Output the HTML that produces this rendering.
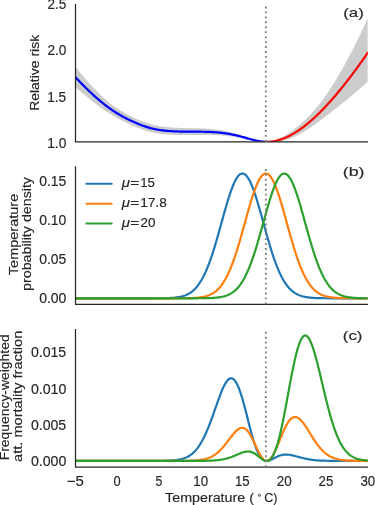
<!DOCTYPE html>
<html><head><meta charset="utf-8"><style>
html,body{margin:0;padding:0;background:#fff;width:375px;height:505px;overflow:hidden}
svg{display:block;will-change:transform}
text{font-family:"Liberation Sans",sans-serif;fill:#262626;stroke:#262626;stroke-width:0.16px}
</style></head><body>
<svg width="375" height="505" viewBox="0 0 375 505">
<defs><clipPath id="ca"><rect x="75.3" y="3.9" width="292.50" height="137.9"/></clipPath><clipPath id="cb"><rect x="75.3" y="166.2" width="292.50" height="138.2"/></clipPath><clipPath id="cc"><rect x="75.3" y="328.9" width="292.50" height="138.2"/></clipPath></defs>
<g clip-path="url(#ca)">
<path d="M75.30,66.32 L76.14,67.40 L76.97,68.48 L77.81,69.54 L78.64,70.60 L79.48,71.64 L80.31,72.68 L81.15,73.71 L81.99,74.73 L82.82,75.74 L83.66,76.75 L84.49,77.74 L85.33,78.72 L86.16,79.70 L87.00,80.66 L87.84,81.61 L88.67,82.56 L89.51,83.49 L90.34,84.41 L91.18,85.32 L92.01,86.23 L92.85,87.12 L93.69,88.00 L94.52,88.86 L95.36,89.72 L96.19,90.57 L97.03,91.41 L97.86,92.23 L98.70,93.05 L99.54,93.87 L100.37,94.67 L101.21,95.46 L102.04,96.24 L102.88,97.01 L103.71,97.78 L104.55,98.53 L105.39,99.27 L106.22,100.00 L107.06,100.72 L107.89,101.43 L108.73,102.12 L109.56,102.81 L110.40,103.48 L111.24,104.14 L112.07,104.79 L112.91,105.43 L113.74,106.05 L114.58,106.66 L115.41,107.26 L116.25,107.84 L117.08,108.42 L117.92,108.97 L118.76,109.52 L119.59,110.05 L120.43,110.56 L121.26,111.07 L122.10,111.56 L122.93,112.05 L123.77,112.53 L124.61,113.00 L125.44,113.46 L126.28,113.91 L127.11,114.35 L127.95,114.79 L128.78,115.22 L129.62,115.64 L130.46,116.06 L131.29,116.48 L132.13,116.88 L132.96,117.29 L133.80,117.68 L134.63,118.07 L135.47,118.46 L136.31,118.84 L137.14,119.21 L137.98,119.58 L138.81,119.94 L139.65,120.29 L140.48,120.63 L141.32,120.97 L142.16,121.30 L142.99,121.62 L143.83,121.94 L144.66,122.24 L145.50,122.54 L146.33,122.83 L147.17,123.10 L148.01,123.37 L148.84,123.63 L149.68,123.88 L150.51,124.12 L151.35,124.35 L152.18,124.57 L153.02,124.78 L153.86,124.99 L154.69,125.18 L155.53,125.36 L156.36,125.54 L157.20,125.70 L158.03,125.86 L158.87,126.01 L159.71,126.16 L160.54,126.29 L161.38,126.42 L162.21,126.54 L163.05,126.66 L163.88,126.76 L164.72,126.87 L165.56,126.96 L166.39,127.05 L167.23,127.14 L168.06,127.21 L168.90,127.29 L169.73,127.36 L170.57,127.42 L171.41,127.48 L172.24,127.54 L173.08,127.59 L173.91,127.64 L174.75,127.69 L175.58,127.73 L176.42,127.77 L177.26,127.80 L178.09,127.84 L178.93,127.87 L179.76,127.90 L180.60,127.92 L181.43,127.95 L182.27,127.97 L183.11,127.99 L183.94,128.02 L184.78,128.03 L185.61,128.05 L186.45,128.07 L187.28,128.08 L188.12,128.10 L188.96,128.11 L189.79,128.13 L190.63,128.14 L191.46,128.15 L192.30,128.17 L193.13,128.18 L193.97,128.20 L194.81,128.22 L195.64,128.24 L196.48,128.26 L197.31,128.28 L198.15,128.30 L198.98,128.33 L199.82,128.36 L200.65,128.39 L201.49,128.42 L202.33,128.45 L203.16,128.49 L204.00,128.53 L204.83,128.57 L205.67,128.62 L206.50,128.67 L207.34,128.72 L208.18,128.78 L209.01,128.84 L209.85,128.91 L210.68,128.97 L211.52,129.05 L212.35,129.12 L213.19,129.20 L214.03,129.28 L214.86,129.37 L215.70,129.46 L216.53,129.55 L217.37,129.65 L218.20,129.75 L219.04,129.86 L219.88,129.98 L220.71,130.10 L221.55,130.23 L222.38,130.36 L223.22,130.50 L224.05,130.65 L224.89,130.80 L225.73,130.96 L226.56,131.13 L227.40,131.30 L228.23,131.48 L229.07,131.67 L229.90,131.86 L230.74,132.06 L231.58,132.27 L232.41,132.48 L233.25,132.70 L234.08,132.92 L234.92,133.15 L235.75,133.39 L236.59,133.63 L237.43,133.87 L238.26,134.13 L239.10,134.39 L239.93,134.65 L240.77,134.92 L241.60,135.19 L242.44,135.46 L243.28,135.74 L244.11,136.03 L244.95,136.31 L245.78,136.60 L246.62,136.88 L247.45,137.17 L248.29,137.46 L249.13,137.74 L249.96,138.03 L250.80,138.31 L251.63,138.58 L252.47,138.86 L253.30,139.14 L254.14,139.41 L254.98,139.68 L255.81,139.94 L256.65,140.19 L257.48,140.42 L258.32,140.65 L259.15,140.86 L259.99,141.05 L260.83,141.23 L261.66,141.38 L262.50,141.51 L263.33,141.62 L264.17,141.71 L265.00,141.77 L265.84,141.80 L266.68,141.80 L267.51,141.76 L268.35,141.68 L269.18,141.57 L270.02,141.43 L270.85,141.26 L271.69,141.06 L272.53,140.83 L273.36,140.58 L274.20,140.31 L275.03,140.02 L275.87,139.71 L276.70,139.39 L277.54,139.05 L278.38,138.70 L279.21,138.34 L280.05,137.97 L280.88,137.59 L281.72,137.19 L282.55,136.77 L283.39,136.34 L284.22,135.89 L285.06,135.42 L285.90,134.93 L286.73,134.43 L287.57,133.91 L288.40,133.38 L289.24,132.83 L290.07,132.27 L290.91,131.69 L291.75,131.10 L292.58,130.50 L293.42,129.88 L294.25,129.25 L295.09,128.61 L295.92,127.96 L296.76,127.29 L297.60,126.62 L298.43,125.93 L299.27,125.23 L300.10,124.52 L300.94,123.79 L301.77,123.06 L302.61,122.30 L303.45,121.54 L304.28,120.76 L305.12,119.97 L305.95,119.16 L306.79,118.34 L307.62,117.50 L308.46,116.65 L309.30,115.78 L310.13,114.89 L310.97,113.99 L311.80,113.07 L312.64,112.14 L313.47,111.19 L314.31,110.23 L315.15,109.26 L315.98,108.27 L316.82,107.26 L317.65,106.24 L318.49,105.21 L319.32,104.16 L320.16,103.09 L321.00,102.01 L321.83,100.91 L322.67,99.80 L323.50,98.67 L324.34,97.53 L325.17,96.37 L326.01,95.19 L326.85,93.99 L327.68,92.77 L328.52,91.54 L329.35,90.28 L330.19,89.01 L331.02,87.72 L331.86,86.42 L332.70,85.10 L333.53,83.76 L334.37,82.41 L335.20,81.04 L336.04,79.66 L336.87,78.26 L337.71,76.86 L338.55,75.44 L339.38,74.01 L340.22,72.57 L341.05,71.11 L341.89,69.64 L342.72,68.15 L343.56,66.65 L344.40,65.14 L345.23,63.61 L346.07,62.07 L346.90,60.51 L347.74,58.95 L348.57,57.38 L349.41,55.80 L350.25,54.21 L351.08,52.61 L351.92,51.01 L352.75,49.39 L353.59,47.77 L354.42,46.13 L355.26,44.48 L356.10,42.82 L356.93,41.14 L357.77,39.45 L358.60,37.75 L359.44,36.02 L360.27,34.28 L361.11,32.52 L361.95,30.75 L362.78,28.96 L363.62,27.15 L364.45,25.32 L365.29,23.48 L366.12,21.62 L366.96,19.74 L367.80,17.84 L367.80,81.89 L366.96,82.62 L366.12,83.34 L365.29,84.06 L364.45,84.78 L363.62,85.50 L362.78,86.21 L361.95,86.93 L361.11,87.64 L360.27,88.36 L359.44,89.07 L358.60,89.79 L357.77,90.50 L356.93,91.22 L356.10,91.93 L355.26,92.65 L354.42,93.36 L353.59,94.07 L352.75,94.78 L351.92,95.49 L351.08,96.19 L350.25,96.89 L349.41,97.58 L348.57,98.27 L347.74,98.96 L346.90,99.64 L346.07,100.32 L345.23,101.00 L344.40,101.68 L343.56,102.35 L342.72,103.02 L341.89,103.70 L341.05,104.37 L340.22,105.05 L339.38,105.72 L338.55,106.39 L337.71,107.06 L336.87,107.72 L336.04,108.38 L335.20,109.04 L334.37,109.69 L333.53,110.34 L332.70,110.99 L331.86,111.64 L331.02,112.28 L330.19,112.93 L329.35,113.57 L328.52,114.21 L327.68,114.85 L326.85,115.49 L326.01,116.14 L325.17,116.78 L324.34,117.42 L323.50,118.06 L322.67,118.70 L321.83,119.33 L321.00,119.97 L320.16,120.59 L319.32,121.22 L318.49,121.84 L317.65,122.45 L316.82,123.06 L315.98,123.67 L315.15,124.27 L314.31,124.86 L313.47,125.45 L312.64,126.03 L311.80,126.61 L310.97,127.18 L310.13,127.74 L309.30,128.29 L308.46,128.84 L307.62,129.39 L306.79,129.93 L305.95,130.46 L305.12,130.98 L304.28,131.50 L303.45,132.01 L302.61,132.51 L301.77,133.00 L300.94,133.48 L300.10,133.95 L299.27,134.41 L298.43,134.86 L297.60,135.29 L296.76,135.71 L295.92,136.12 L295.09,136.52 L294.25,136.90 L293.42,137.27 L292.58,137.62 L291.75,137.96 L290.91,138.29 L290.07,138.60 L289.24,138.90 L288.40,139.19 L287.57,139.47 L286.73,139.73 L285.90,139.98 L285.06,140.21 L284.22,140.43 L283.39,140.64 L282.55,140.84 L281.72,141.02 L280.88,141.20 L280.05,141.35 L279.21,141.49 L278.38,141.61 L277.54,141.71 L276.70,141.79 L275.87,141.84 L275.03,141.89 L274.20,141.92 L273.36,141.93 L272.53,141.94 L271.69,141.94 L270.85,141.92 L270.02,141.91 L269.18,141.89 L268.35,141.86 L267.51,141.84 L266.68,141.82 L265.84,141.80 L265.00,141.78 L264.17,141.75 L263.33,141.72 L262.50,141.68 L261.66,141.63 L260.83,141.58 L259.99,141.51 L259.15,141.44 L258.32,141.36 L257.48,141.27 L256.65,141.17 L255.81,141.06 L254.98,140.94 L254.14,140.81 L253.30,140.67 L252.47,140.52 L251.63,140.36 L250.80,140.19 L249.96,140.02 L249.13,139.84 L248.29,139.66 L247.45,139.48 L246.62,139.31 L245.78,139.13 L244.95,138.95 L244.11,138.77 L243.28,138.60 L242.44,138.42 L241.60,138.25 L240.77,138.09 L239.93,137.92 L239.10,137.76 L238.26,137.60 L237.43,137.45 L236.59,137.30 L235.75,137.15 L234.92,137.01 L234.08,136.87 L233.25,136.74 L232.41,136.61 L231.58,136.48 L230.74,136.37 L229.90,136.25 L229.07,136.14 L228.23,136.04 L227.40,135.94 L226.56,135.85 L225.73,135.76 L224.89,135.68 L224.05,135.60 L223.22,135.53 L222.38,135.46 L221.55,135.40 L220.71,135.34 L219.88,135.29 L219.04,135.24 L218.20,135.20 L217.37,135.16 L216.53,135.12 L215.70,135.08 L214.86,135.05 L214.03,135.02 L213.19,134.99 L212.35,134.97 L211.52,134.95 L210.68,134.93 L209.85,134.91 L209.01,134.90 L208.18,134.89 L207.34,134.89 L206.50,134.88 L205.67,134.88 L204.83,134.88 L204.00,134.89 L203.16,134.89 L202.33,134.90 L201.49,134.91 L200.65,134.92 L199.82,134.93 L198.98,134.94 L198.15,134.95 L197.31,134.97 L196.48,134.98 L195.64,134.99 L194.81,135.00 L193.97,135.02 L193.13,135.03 L192.30,135.04 L191.46,135.05 L190.63,135.06 L189.79,135.07 L188.96,135.07 L188.12,135.08 L187.28,135.08 L186.45,135.08 L185.61,135.08 L184.78,135.08 L183.94,135.08 L183.11,135.07 L182.27,135.07 L181.43,135.06 L180.60,135.05 L179.76,135.03 L178.93,135.02 L178.09,135.00 L177.26,134.98 L176.42,134.96 L175.58,134.93 L174.75,134.90 L173.91,134.87 L173.08,134.84 L172.24,134.80 L171.41,134.75 L170.57,134.71 L169.73,134.66 L168.90,134.60 L168.06,134.54 L167.23,134.48 L166.39,134.41 L165.56,134.34 L164.72,134.26 L163.88,134.18 L163.05,134.09 L162.21,133.99 L161.38,133.89 L160.54,133.78 L159.71,133.67 L158.87,133.55 L158.03,133.42 L157.20,133.29 L156.36,133.15 L155.53,133.00 L154.69,132.84 L153.86,132.68 L153.02,132.51 L152.18,132.32 L151.35,132.13 L150.51,131.93 L149.68,131.72 L148.84,131.50 L148.01,131.27 L147.17,131.03 L146.33,130.78 L145.50,130.53 L144.66,130.26 L143.83,129.99 L142.99,129.71 L142.16,129.42 L141.32,129.12 L140.48,128.82 L139.65,128.50 L138.81,128.19 L137.98,127.86 L137.14,127.53 L136.31,127.19 L135.47,126.85 L134.63,126.50 L133.80,126.15 L132.96,125.79 L132.13,125.43 L131.29,125.06 L130.46,124.69 L129.62,124.31 L128.78,123.93 L127.95,123.55 L127.11,123.16 L126.28,122.76 L125.44,122.36 L124.61,121.95 L123.77,121.53 L122.93,121.11 L122.10,120.68 L121.26,120.24 L120.43,119.79 L119.59,119.34 L118.76,118.88 L117.92,118.41 L117.08,117.94 L116.25,117.47 L115.41,116.98 L114.58,116.50 L113.74,116.00 L112.91,115.51 L112.07,115.00 L111.24,114.49 L110.40,113.97 L109.56,113.45 L108.73,112.92 L107.89,112.39 L107.06,111.84 L106.22,111.30 L105.39,110.74 L104.55,110.18 L103.71,109.61 L102.88,109.04 L102.04,108.46 L101.21,107.87 L100.37,107.27 L99.54,106.67 L98.70,106.06 L97.86,105.45 L97.03,104.82 L96.19,104.19 L95.36,103.55 L94.52,102.91 L93.69,102.26 L92.85,101.61 L92.01,100.95 L91.18,100.29 L90.34,99.63 L89.51,98.96 L88.67,98.28 L87.84,97.61 L87.00,96.92 L86.16,96.24 L85.33,95.55 L84.49,94.86 L83.66,94.16 L82.82,93.46 L81.99,92.76 L81.15,92.05 L80.31,91.34 L79.48,90.63 L78.64,89.91 L77.81,89.19 L76.97,88.47 L76.14,87.75 L75.30,87.02 Z" fill="#cccccc" stroke="none"/>
<path d="M75.30,77.01 L76.14,77.91 L76.97,78.80 L77.81,79.68 L78.64,80.56 L79.48,81.43 L80.31,82.30 L81.15,83.16 L81.99,84.02 L82.82,84.87 L83.66,85.71 L84.49,86.55 L85.33,87.38 L86.16,88.20 L87.00,89.02 L87.84,89.83 L88.67,90.64 L89.51,91.43 L90.34,92.22 L91.18,93.01 L92.01,93.78 L92.85,94.55 L93.69,95.31 L94.52,96.07 L95.36,96.81 L96.19,97.55 L97.03,98.28 L97.86,99.00 L98.70,99.72 L99.54,100.42 L100.37,101.12 L101.21,101.81 L102.04,102.49 L102.88,103.17 L103.71,103.83 L104.55,104.49 L105.39,105.13 L106.22,105.77 L107.06,106.40 L107.89,107.03 L108.73,107.64 L109.56,108.24 L110.40,108.84 L111.24,109.42 L112.07,110.00 L112.91,110.57 L113.74,111.13 L114.58,111.68 L115.41,112.22 L116.25,112.75 L117.08,113.27 L117.92,113.79 L118.76,114.29 L119.59,114.78 L120.43,115.27 L121.26,115.74 L122.10,116.21 L122.93,116.67 L123.77,117.12 L124.61,117.56 L125.44,117.99 L126.28,118.42 L127.11,118.84 L127.95,119.25 L128.78,119.66 L129.62,120.06 L130.46,120.46 L131.29,120.85 L132.13,121.24 L132.96,121.62 L133.80,122.00 L134.63,122.37 L135.47,122.73 L136.31,123.09 L137.14,123.45 L137.98,123.80 L138.81,124.14 L139.65,124.47 L140.48,124.80 L141.32,125.12 L142.16,125.44 L142.99,125.74 L143.83,126.04 L144.66,126.33 L145.50,126.61 L146.33,126.88 L147.17,127.14 L148.01,127.40 L148.84,127.64 L149.68,127.87 L150.51,128.10 L151.35,128.31 L152.18,128.52 L153.02,128.72 L153.86,128.90 L154.69,129.08 L155.53,129.25 L156.36,129.41 L157.20,129.57 L158.03,129.71 L158.87,129.85 L159.71,129.98 L160.54,130.11 L161.38,130.22 L162.21,130.33 L163.05,130.44 L163.88,130.54 L164.72,130.63 L165.56,130.72 L166.39,130.80 L167.23,130.87 L168.06,130.94 L168.90,131.01 L169.73,131.07 L170.57,131.13 L171.41,131.18 L172.24,131.23 L173.08,131.28 L173.91,131.32 L174.75,131.36 L175.58,131.39 L176.42,131.43 L177.26,131.45 L178.09,131.48 L178.93,131.51 L179.76,131.53 L180.60,131.55 L181.43,131.57 L182.27,131.58 L183.11,131.60 L183.94,131.61 L184.78,131.62 L185.61,131.63 L186.45,131.63 L187.28,131.64 L188.12,131.65 L188.96,131.65 L189.79,131.65 L190.63,131.66 L191.46,131.66 L192.30,131.66 L193.13,131.66 L193.97,131.67 L194.81,131.67 L195.64,131.67 L196.48,131.67 L197.31,131.68 L198.15,131.68 L198.98,131.69 L199.82,131.69 L200.65,131.70 L201.49,131.71 L202.33,131.73 L203.16,131.74 L204.00,131.76 L204.83,131.78 L205.67,131.80 L206.50,131.82 L207.34,131.85 L208.18,131.88 L209.01,131.92 L209.85,131.95 L210.68,132.00 L211.52,132.04 L212.35,132.09 L213.19,132.14 L214.03,132.19 L214.86,132.25 L215.70,132.31 L216.53,132.37 L217.37,132.44 L218.20,132.51 L219.04,132.59 L219.88,132.67 L220.71,132.75 L221.55,132.85 L222.38,132.94 L223.22,133.05 L224.05,133.15 L224.89,133.27 L225.73,133.39 L226.56,133.52 L227.40,133.65 L228.23,133.79 L229.07,133.93 L229.90,134.08 L230.74,134.24 L231.58,134.40 L232.41,134.57 L233.25,134.74 L234.08,134.92 L234.92,135.10 L235.75,135.29 L236.59,135.48 L237.43,135.68 L238.26,135.88 L239.10,136.09 L239.93,136.30 L240.77,136.51 L241.60,136.73 L242.44,136.95 L243.28,137.18 L244.11,137.41 L244.95,137.64 L245.78,137.87 L246.62,138.10 L247.45,138.34 L248.29,138.57 L249.13,138.80 L249.96,139.03 L250.80,139.25 L251.63,139.48 L252.47,139.69 L253.30,139.91 L254.14,140.11 L254.98,140.31 L255.81,140.50 L256.65,140.68 L257.48,140.85 L258.32,141.00 L259.15,141.15 L259.99,141.28 L260.83,141.40 L261.66,141.51 L262.50,141.60 L263.33,141.67 L264.17,141.73 L265.00,141.77 L265.84,141.80" fill="none" stroke="#0000ff" stroke-width="2.2" stroke-linecap="round"/>
<path d="M265.84,141.80 L266.68,141.81 L267.51,141.80 L268.35,141.77 L269.18,141.73 L270.02,141.67 L270.85,141.59 L271.69,141.50 L272.53,141.39 L273.36,141.26 L274.20,141.12 L275.03,140.96 L275.87,140.78 L276.70,140.59 L277.54,140.39 L278.38,140.17 L279.21,139.93 L280.05,139.68 L280.88,139.41 L281.72,139.13 L282.55,138.83 L283.39,138.52 L284.22,138.19 L285.06,137.84 L285.90,137.49 L286.73,137.11 L287.57,136.73 L288.40,136.33 L289.24,135.91 L290.07,135.49 L290.91,135.04 L291.75,134.59 L292.58,134.12 L293.42,133.64 L294.25,133.15 L295.09,132.64 L295.92,132.12 L296.76,131.59 L297.60,131.05 L298.43,130.49 L299.27,129.92 L300.10,129.34 L300.94,128.75 L301.77,128.14 L302.61,127.53 L303.45,126.90 L304.28,126.26 L305.12,125.62 L305.95,124.96 L306.79,124.29 L307.62,123.60 L308.46,122.91 L309.30,122.21 L310.13,121.50 L310.97,120.77 L311.80,120.04 L312.64,119.30 L313.47,118.54 L314.31,117.78 L315.15,117.00 L315.98,116.22 L316.82,115.43 L317.65,114.62 L318.49,113.81 L319.32,112.99 L320.16,112.16 L321.00,111.32 L321.83,110.47 L322.67,109.61 L323.50,108.74 L324.34,107.87 L325.17,106.98 L326.01,106.09 L326.85,105.19 L327.68,104.28 L328.52,103.37 L329.35,102.44 L330.19,101.51 L331.02,100.57 L331.86,99.62 L332.70,98.66 L333.53,97.70 L334.37,96.73 L335.20,95.75 L336.04,94.76 L336.87,93.77 L337.71,92.76 L338.55,91.76 L339.38,90.74 L340.22,89.72 L341.05,88.69 L341.89,87.66 L342.72,86.62 L343.56,85.57 L344.40,84.52 L345.23,83.46 L346.07,82.40 L346.90,81.33 L347.74,80.25 L348.57,79.17 L349.41,78.09 L350.25,76.99 L351.08,75.90 L351.92,74.79 L352.75,73.69 L353.59,72.57 L354.42,71.45 L355.26,70.33 L356.10,69.20 L356.93,68.06 L357.77,66.92 L358.60,65.77 L359.44,64.61 L360.27,63.45 L361.11,62.28 L361.95,61.11 L362.78,59.93 L363.62,58.74 L364.45,57.54 L365.29,56.34 L366.12,55.13 L366.96,53.91 L367.80,52.68" fill="none" stroke="#ff0000" stroke-width="2.2" stroke-linecap="round"/>
</g><g clip-path="url(#cb)">
<path d="M75.30,298.30 L76.14,298.30 L76.97,298.30 L77.81,298.30 L78.64,298.30 L79.48,298.30 L80.31,298.30 L81.15,298.30 L81.99,298.30 L82.82,298.30 L83.66,298.30 L84.49,298.30 L85.33,298.30 L86.16,298.30 L87.00,298.30 L87.84,298.30 L88.67,298.30 L89.51,298.30 L90.34,298.30 L91.18,298.30 L92.01,298.30 L92.85,298.30 L93.69,298.30 L94.52,298.30 L95.36,298.30 L96.19,298.30 L97.03,298.30 L97.86,298.30 L98.70,298.30 L99.54,298.30 L100.37,298.30 L101.21,298.30 L102.04,298.30 L102.88,298.30 L103.71,298.30 L104.55,298.30 L105.39,298.30 L106.22,298.30 L107.06,298.30 L107.89,298.30 L108.73,298.30 L109.56,298.30 L110.40,298.30 L111.24,298.30 L112.07,298.30 L112.91,298.30 L113.74,298.30 L114.58,298.30 L115.41,298.30 L116.25,298.30 L117.08,298.30 L117.92,298.30 L118.76,298.30 L119.59,298.30 L120.43,298.30 L121.26,298.30 L122.10,298.30 L122.93,298.30 L123.77,298.30 L124.61,298.30 L125.44,298.30 L126.28,298.30 L127.11,298.30 L127.95,298.30 L128.78,298.30 L129.62,298.30 L130.46,298.30 L131.29,298.30 L132.13,298.30 L132.96,298.30 L133.80,298.30 L134.63,298.30 L135.47,298.30 L136.31,298.30 L137.14,298.30 L137.98,298.30 L138.81,298.30 L139.65,298.30 L140.48,298.30 L141.32,298.30 L142.16,298.30 L142.99,298.30 L143.83,298.30 L144.66,298.30 L145.50,298.30 L146.33,298.30 L147.17,298.30 L148.01,298.30 L148.84,298.29 L149.68,298.29 L150.51,298.29 L151.35,298.29 L152.18,298.29 L153.02,298.29 L153.86,298.28 L154.69,298.28 L155.53,298.28 L156.36,298.27 L157.20,298.27 L158.03,298.26 L158.87,298.26 L159.71,298.25 L160.54,298.24 L161.38,298.23 L162.21,298.22 L163.05,298.21 L163.88,298.19 L164.72,298.18 L165.56,298.16 L166.39,298.13 L167.23,298.11 L168.06,298.08 L168.90,298.05 L169.73,298.01 L170.57,297.96 L171.41,297.91 L172.24,297.86 L173.08,297.80 L173.91,297.72 L174.75,297.64 L175.58,297.55 L176.42,297.45 L177.26,297.34 L178.09,297.21 L178.93,297.07 L179.76,296.91 L180.60,296.74 L181.43,296.54 L182.27,296.33 L183.11,296.09 L183.94,295.82 L184.78,295.53 L185.61,295.21 L186.45,294.86 L187.28,294.47 L188.12,294.05 L188.96,293.59 L189.79,293.09 L190.63,292.54 L191.46,291.94 L192.30,291.29 L193.13,290.60 L193.97,289.84 L194.81,289.02 L195.64,288.15 L196.48,287.20 L197.31,286.19 L198.15,285.11 L198.98,283.95 L199.82,282.72 L200.65,281.41 L201.49,280.02 L202.33,278.54 L203.16,276.98 L204.00,275.34 L204.83,273.60 L205.67,271.78 L206.50,269.87 L207.34,267.87 L208.18,265.78 L209.01,263.60 L209.85,261.34 L210.68,258.99 L211.52,256.56 L212.35,254.05 L213.19,251.47 L214.03,248.81 L214.86,246.08 L215.70,243.29 L216.53,240.45 L217.37,237.56 L218.20,234.62 L219.04,231.65 L219.88,228.65 L220.71,225.64 L221.55,222.61 L222.38,219.59 L223.22,216.57 L224.05,213.57 L224.89,210.61 L225.73,207.68 L226.56,204.81 L227.40,202.00 L228.23,199.27 L229.07,196.62 L229.90,194.07 L230.74,191.62 L231.58,189.29 L232.41,187.09 L233.25,185.02 L234.08,183.11 L234.92,181.34 L235.75,179.74 L236.59,178.31 L237.43,177.05 L238.26,175.98 L239.10,175.10 L239.93,174.41 L240.77,173.91 L241.60,173.61 L242.44,173.51 L243.28,173.61 L244.11,173.91 L244.95,174.41 L245.78,175.10 L246.62,175.98 L247.45,177.05 L248.29,178.31 L249.13,179.74 L249.96,181.34 L250.80,183.11 L251.63,185.02 L252.47,187.09 L253.30,189.29 L254.14,191.62 L254.98,194.07 L255.81,196.62 L256.65,199.27 L257.48,202.00 L258.32,204.81 L259.15,207.68 L259.99,210.61 L260.83,213.57 L261.66,216.57 L262.50,219.59 L263.33,222.61 L264.17,225.64 L265.00,228.65 L265.84,231.65 L266.68,234.62 L267.51,237.56 L268.35,240.45 L269.18,243.29 L270.02,246.08 L270.85,248.81 L271.69,251.47 L272.53,254.05 L273.36,256.56 L274.20,258.99 L275.03,261.34 L275.87,263.60 L276.70,265.78 L277.54,267.87 L278.38,269.87 L279.21,271.78 L280.05,273.60 L280.88,275.34 L281.72,276.98 L282.55,278.54 L283.39,280.02 L284.22,281.41 L285.06,282.72 L285.90,283.95 L286.73,285.11 L287.57,286.19 L288.40,287.20 L289.24,288.15 L290.07,289.02 L290.91,289.84 L291.75,290.60 L292.58,291.29 L293.42,291.94 L294.25,292.54 L295.09,293.09 L295.92,293.59 L296.76,294.05 L297.60,294.47 L298.43,294.86 L299.27,295.21 L300.10,295.53 L300.94,295.82 L301.77,296.09 L302.61,296.33 L303.45,296.54 L304.28,296.74 L305.12,296.91 L305.95,297.07 L306.79,297.21 L307.62,297.34 L308.46,297.45 L309.30,297.55 L310.13,297.64 L310.97,297.72 L311.80,297.80 L312.64,297.86 L313.47,297.91 L314.31,297.96 L315.15,298.01 L315.98,298.05 L316.82,298.08 L317.65,298.11 L318.49,298.13 L319.32,298.16 L320.16,298.18 L321.00,298.19 L321.83,298.21 L322.67,298.22 L323.50,298.23 L324.34,298.24 L325.17,298.25 L326.01,298.26 L326.85,298.26 L327.68,298.27 L328.52,298.27 L329.35,298.28 L330.19,298.28 L331.02,298.28 L331.86,298.29 L332.70,298.29 L333.53,298.29 L334.37,298.29 L335.20,298.29 L336.04,298.29 L336.87,298.30 L337.71,298.30 L338.55,298.30 L339.38,298.30 L340.22,298.30 L341.05,298.30 L341.89,298.30 L342.72,298.30 L343.56,298.30 L344.40,298.30 L345.23,298.30 L346.07,298.30 L346.90,298.30 L347.74,298.30 L348.57,298.30 L349.41,298.30 L350.25,298.30 L351.08,298.30 L351.92,298.30 L352.75,298.30 L353.59,298.30 L354.42,298.30 L355.26,298.30 L356.10,298.30 L356.93,298.30 L357.77,298.30 L358.60,298.30 L359.44,298.30 L360.27,298.30 L361.11,298.30 L361.95,298.30 L362.78,298.30 L363.62,298.30 L364.45,298.30 L365.29,298.30 L366.12,298.30 L366.96,298.30 L367.80,298.30" fill="none" stroke="#1f77b4" stroke-width="2.2"/>
<path d="M75.30,298.30 L76.14,298.30 L76.97,298.30 L77.81,298.30 L78.64,298.30 L79.48,298.30 L80.31,298.30 L81.15,298.30 L81.99,298.30 L82.82,298.30 L83.66,298.30 L84.49,298.30 L85.33,298.30 L86.16,298.30 L87.00,298.30 L87.84,298.30 L88.67,298.30 L89.51,298.30 L90.34,298.30 L91.18,298.30 L92.01,298.30 L92.85,298.30 L93.69,298.30 L94.52,298.30 L95.36,298.30 L96.19,298.30 L97.03,298.30 L97.86,298.30 L98.70,298.30 L99.54,298.30 L100.37,298.30 L101.21,298.30 L102.04,298.30 L102.88,298.30 L103.71,298.30 L104.55,298.30 L105.39,298.30 L106.22,298.30 L107.06,298.30 L107.89,298.30 L108.73,298.30 L109.56,298.30 L110.40,298.30 L111.24,298.30 L112.07,298.30 L112.91,298.30 L113.74,298.30 L114.58,298.30 L115.41,298.30 L116.25,298.30 L117.08,298.30 L117.92,298.30 L118.76,298.30 L119.59,298.30 L120.43,298.30 L121.26,298.30 L122.10,298.30 L122.93,298.30 L123.77,298.30 L124.61,298.30 L125.44,298.30 L126.28,298.30 L127.11,298.30 L127.95,298.30 L128.78,298.30 L129.62,298.30 L130.46,298.30 L131.29,298.30 L132.13,298.30 L132.96,298.30 L133.80,298.30 L134.63,298.30 L135.47,298.30 L136.31,298.30 L137.14,298.30 L137.98,298.30 L138.81,298.30 L139.65,298.30 L140.48,298.30 L141.32,298.30 L142.16,298.30 L142.99,298.30 L143.83,298.30 L144.66,298.30 L145.50,298.30 L146.33,298.30 L147.17,298.30 L148.01,298.30 L148.84,298.30 L149.68,298.30 L150.51,298.30 L151.35,298.30 L152.18,298.30 L153.02,298.30 L153.86,298.30 L154.69,298.30 L155.53,298.30 L156.36,298.30 L157.20,298.30 L158.03,298.30 L158.87,298.30 L159.71,298.30 L160.54,298.30 L161.38,298.30 L162.21,298.30 L163.05,298.30 L163.88,298.30 L164.72,298.30 L165.56,298.30 L166.39,298.30 L167.23,298.30 L168.06,298.30 L168.90,298.30 L169.73,298.30 L170.57,298.30 L171.41,298.30 L172.24,298.29 L173.08,298.29 L173.91,298.29 L174.75,298.29 L175.58,298.29 L176.42,298.29 L177.26,298.28 L178.09,298.28 L178.93,298.28 L179.76,298.27 L180.60,298.27 L181.43,298.26 L182.27,298.26 L183.11,298.25 L183.94,298.24 L184.78,298.23 L185.61,298.22 L186.45,298.21 L187.28,298.19 L188.12,298.18 L188.96,298.16 L189.79,298.13 L190.63,298.11 L191.46,298.08 L192.30,298.05 L193.13,298.01 L193.97,297.96 L194.81,297.91 L195.64,297.86 L196.48,297.80 L197.31,297.72 L198.15,297.64 L198.98,297.55 L199.82,297.45 L200.65,297.34 L201.49,297.21 L202.33,297.07 L203.16,296.91 L204.00,296.74 L204.83,296.54 L205.67,296.33 L206.50,296.09 L207.34,295.82 L208.18,295.53 L209.01,295.21 L209.85,294.86 L210.68,294.47 L211.52,294.05 L212.35,293.59 L213.19,293.09 L214.03,292.54 L214.86,291.94 L215.70,291.29 L216.53,290.60 L217.37,289.84 L218.20,289.02 L219.04,288.15 L219.88,287.20 L220.71,286.19 L221.55,285.11 L222.38,283.95 L223.22,282.72 L224.05,281.41 L224.89,280.02 L225.73,278.54 L226.56,276.98 L227.40,275.34 L228.23,273.60 L229.07,271.78 L229.90,269.87 L230.74,267.87 L231.58,265.78 L232.41,263.60 L233.25,261.34 L234.08,258.99 L234.92,256.56 L235.75,254.05 L236.59,251.47 L237.43,248.81 L238.26,246.08 L239.10,243.29 L239.93,240.45 L240.77,237.56 L241.60,234.62 L242.44,231.65 L243.28,228.65 L244.11,225.64 L244.95,222.61 L245.78,219.59 L246.62,216.57 L247.45,213.57 L248.29,210.61 L249.13,207.68 L249.96,204.81 L250.80,202.00 L251.63,199.27 L252.47,196.62 L253.30,194.07 L254.14,191.62 L254.98,189.29 L255.81,187.09 L256.65,185.02 L257.48,183.11 L258.32,181.34 L259.15,179.74 L259.99,178.31 L260.83,177.05 L261.66,175.98 L262.50,175.10 L263.33,174.41 L264.17,173.91 L265.00,173.61 L265.84,173.51 L266.68,173.61 L267.51,173.91 L268.35,174.41 L269.18,175.10 L270.02,175.98 L270.85,177.05 L271.69,178.31 L272.53,179.74 L273.36,181.34 L274.20,183.11 L275.03,185.02 L275.87,187.09 L276.70,189.29 L277.54,191.62 L278.38,194.07 L279.21,196.62 L280.05,199.27 L280.88,202.00 L281.72,204.81 L282.55,207.68 L283.39,210.61 L284.22,213.57 L285.06,216.57 L285.90,219.59 L286.73,222.61 L287.57,225.64 L288.40,228.65 L289.24,231.65 L290.07,234.62 L290.91,237.56 L291.75,240.45 L292.58,243.29 L293.42,246.08 L294.25,248.81 L295.09,251.47 L295.92,254.05 L296.76,256.56 L297.60,258.99 L298.43,261.34 L299.27,263.60 L300.10,265.78 L300.94,267.87 L301.77,269.87 L302.61,271.78 L303.45,273.60 L304.28,275.34 L305.12,276.98 L305.95,278.54 L306.79,280.02 L307.62,281.41 L308.46,282.72 L309.30,283.95 L310.13,285.11 L310.97,286.19 L311.80,287.20 L312.64,288.15 L313.47,289.02 L314.31,289.84 L315.15,290.60 L315.98,291.29 L316.82,291.94 L317.65,292.54 L318.49,293.09 L319.32,293.59 L320.16,294.05 L321.00,294.47 L321.83,294.86 L322.67,295.21 L323.50,295.53 L324.34,295.82 L325.17,296.09 L326.01,296.33 L326.85,296.54 L327.68,296.74 L328.52,296.91 L329.35,297.07 L330.19,297.21 L331.02,297.34 L331.86,297.45 L332.70,297.55 L333.53,297.64 L334.37,297.72 L335.20,297.80 L336.04,297.86 L336.87,297.91 L337.71,297.96 L338.55,298.01 L339.38,298.05 L340.22,298.08 L341.05,298.11 L341.89,298.13 L342.72,298.16 L343.56,298.18 L344.40,298.19 L345.23,298.21 L346.07,298.22 L346.90,298.23 L347.74,298.24 L348.57,298.25 L349.41,298.26 L350.25,298.26 L351.08,298.27 L351.92,298.27 L352.75,298.28 L353.59,298.28 L354.42,298.28 L355.26,298.29 L356.10,298.29 L356.93,298.29 L357.77,298.29 L358.60,298.29 L359.44,298.29 L360.27,298.30 L361.11,298.30 L361.95,298.30 L362.78,298.30 L363.62,298.30 L364.45,298.30 L365.29,298.30 L366.12,298.30 L366.96,298.30 L367.80,298.30" fill="none" stroke="#ff7f0e" stroke-width="2.2"/>
<path d="M75.30,298.30 L76.14,298.30 L76.97,298.30 L77.81,298.30 L78.64,298.30 L79.48,298.30 L80.31,298.30 L81.15,298.30 L81.99,298.30 L82.82,298.30 L83.66,298.30 L84.49,298.30 L85.33,298.30 L86.16,298.30 L87.00,298.30 L87.84,298.30 L88.67,298.30 L89.51,298.30 L90.34,298.30 L91.18,298.30 L92.01,298.30 L92.85,298.30 L93.69,298.30 L94.52,298.30 L95.36,298.30 L96.19,298.30 L97.03,298.30 L97.86,298.30 L98.70,298.30 L99.54,298.30 L100.37,298.30 L101.21,298.30 L102.04,298.30 L102.88,298.30 L103.71,298.30 L104.55,298.30 L105.39,298.30 L106.22,298.30 L107.06,298.30 L107.89,298.30 L108.73,298.30 L109.56,298.30 L110.40,298.30 L111.24,298.30 L112.07,298.30 L112.91,298.30 L113.74,298.30 L114.58,298.30 L115.41,298.30 L116.25,298.30 L117.08,298.30 L117.92,298.30 L118.76,298.30 L119.59,298.30 L120.43,298.30 L121.26,298.30 L122.10,298.30 L122.93,298.30 L123.77,298.30 L124.61,298.30 L125.44,298.30 L126.28,298.30 L127.11,298.30 L127.95,298.30 L128.78,298.30 L129.62,298.30 L130.46,298.30 L131.29,298.30 L132.13,298.30 L132.96,298.30 L133.80,298.30 L134.63,298.30 L135.47,298.30 L136.31,298.30 L137.14,298.30 L137.98,298.30 L138.81,298.30 L139.65,298.30 L140.48,298.30 L141.32,298.30 L142.16,298.30 L142.99,298.30 L143.83,298.30 L144.66,298.30 L145.50,298.30 L146.33,298.30 L147.17,298.30 L148.01,298.30 L148.84,298.30 L149.68,298.30 L150.51,298.30 L151.35,298.30 L152.18,298.30 L153.02,298.30 L153.86,298.30 L154.69,298.30 L155.53,298.30 L156.36,298.30 L157.20,298.30 L158.03,298.30 L158.87,298.30 L159.71,298.30 L160.54,298.30 L161.38,298.30 L162.21,298.30 L163.05,298.30 L163.88,298.30 L164.72,298.30 L165.56,298.30 L166.39,298.30 L167.23,298.30 L168.06,298.30 L168.90,298.30 L169.73,298.30 L170.57,298.30 L171.41,298.30 L172.24,298.30 L173.08,298.30 L173.91,298.30 L174.75,298.30 L175.58,298.30 L176.42,298.30 L177.26,298.30 L178.09,298.30 L178.93,298.30 L179.76,298.30 L180.60,298.30 L181.43,298.30 L182.27,298.30 L183.11,298.30 L183.94,298.30 L184.78,298.30 L185.61,298.30 L186.45,298.30 L187.28,298.30 L188.12,298.30 L188.96,298.30 L189.79,298.30 L190.63,298.29 L191.46,298.29 L192.30,298.29 L193.13,298.29 L193.97,298.29 L194.81,298.29 L195.64,298.28 L196.48,298.28 L197.31,298.28 L198.15,298.27 L198.98,298.27 L199.82,298.26 L200.65,298.26 L201.49,298.25 L202.33,298.24 L203.16,298.23 L204.00,298.22 L204.83,298.21 L205.67,298.19 L206.50,298.18 L207.34,298.16 L208.18,298.13 L209.01,298.11 L209.85,298.08 L210.68,298.05 L211.52,298.01 L212.35,297.96 L213.19,297.91 L214.03,297.86 L214.86,297.80 L215.70,297.72 L216.53,297.64 L217.37,297.55 L218.20,297.45 L219.04,297.34 L219.88,297.21 L220.71,297.07 L221.55,296.91 L222.38,296.74 L223.22,296.54 L224.05,296.33 L224.89,296.09 L225.73,295.82 L226.56,295.53 L227.40,295.21 L228.23,294.86 L229.07,294.47 L229.90,294.05 L230.74,293.59 L231.58,293.09 L232.41,292.54 L233.25,291.94 L234.08,291.29 L234.92,290.60 L235.75,289.84 L236.59,289.02 L237.43,288.15 L238.26,287.20 L239.10,286.19 L239.93,285.11 L240.77,283.95 L241.60,282.72 L242.44,281.41 L243.28,280.02 L244.11,278.54 L244.95,276.98 L245.78,275.34 L246.62,273.60 L247.45,271.78 L248.29,269.87 L249.13,267.87 L249.96,265.78 L250.80,263.60 L251.63,261.34 L252.47,258.99 L253.30,256.56 L254.14,254.05 L254.98,251.47 L255.81,248.81 L256.65,246.08 L257.48,243.29 L258.32,240.45 L259.15,237.56 L259.99,234.62 L260.83,231.65 L261.66,228.65 L262.50,225.64 L263.33,222.61 L264.17,219.59 L265.00,216.57 L265.84,213.57 L266.68,210.61 L267.51,207.68 L268.35,204.81 L269.18,202.00 L270.02,199.27 L270.85,196.62 L271.69,194.07 L272.53,191.62 L273.36,189.29 L274.20,187.09 L275.03,185.02 L275.87,183.11 L276.70,181.34 L277.54,179.74 L278.38,178.31 L279.21,177.05 L280.05,175.98 L280.88,175.10 L281.72,174.41 L282.55,173.91 L283.39,173.61 L284.22,173.51 L285.06,173.61 L285.90,173.91 L286.73,174.41 L287.57,175.10 L288.40,175.98 L289.24,177.05 L290.07,178.31 L290.91,179.74 L291.75,181.34 L292.58,183.11 L293.42,185.02 L294.25,187.09 L295.09,189.29 L295.92,191.62 L296.76,194.07 L297.60,196.62 L298.43,199.27 L299.27,202.00 L300.10,204.81 L300.94,207.68 L301.77,210.61 L302.61,213.57 L303.45,216.57 L304.28,219.59 L305.12,222.61 L305.95,225.64 L306.79,228.65 L307.62,231.65 L308.46,234.62 L309.30,237.56 L310.13,240.45 L310.97,243.29 L311.80,246.08 L312.64,248.81 L313.47,251.47 L314.31,254.05 L315.15,256.56 L315.98,258.99 L316.82,261.34 L317.65,263.60 L318.49,265.78 L319.32,267.87 L320.16,269.87 L321.00,271.78 L321.83,273.60 L322.67,275.34 L323.50,276.98 L324.34,278.54 L325.17,280.02 L326.01,281.41 L326.85,282.72 L327.68,283.95 L328.52,285.11 L329.35,286.19 L330.19,287.20 L331.02,288.15 L331.86,289.02 L332.70,289.84 L333.53,290.60 L334.37,291.29 L335.20,291.94 L336.04,292.54 L336.87,293.09 L337.71,293.59 L338.55,294.05 L339.38,294.47 L340.22,294.86 L341.05,295.21 L341.89,295.53 L342.72,295.82 L343.56,296.09 L344.40,296.33 L345.23,296.54 L346.07,296.74 L346.90,296.91 L347.74,297.07 L348.57,297.21 L349.41,297.34 L350.25,297.45 L351.08,297.55 L351.92,297.64 L352.75,297.72 L353.59,297.80 L354.42,297.86 L355.26,297.91 L356.10,297.96 L356.93,298.01 L357.77,298.05 L358.60,298.08 L359.44,298.11 L360.27,298.13 L361.11,298.16 L361.95,298.18 L362.78,298.19 L363.62,298.21 L364.45,298.22 L365.29,298.23 L366.12,298.24 L366.96,298.25 L367.80,298.26" fill="none" stroke="#2ca02c" stroke-width="2.2"/>
</g><g clip-path="url(#cc)">
<path d="M75.30,460.90 L76.14,460.90 L76.97,460.90 L77.81,460.90 L78.64,460.90 L79.48,460.90 L80.31,460.90 L81.15,460.90 L81.99,460.90 L82.82,460.90 L83.66,460.90 L84.49,460.90 L85.33,460.90 L86.16,460.90 L87.00,460.90 L87.84,460.90 L88.67,460.90 L89.51,460.90 L90.34,460.90 L91.18,460.90 L92.01,460.90 L92.85,460.90 L93.69,460.90 L94.52,460.90 L95.36,460.90 L96.19,460.90 L97.03,460.90 L97.86,460.90 L98.70,460.90 L99.54,460.90 L100.37,460.90 L101.21,460.90 L102.04,460.90 L102.88,460.90 L103.71,460.90 L104.55,460.90 L105.39,460.90 L106.22,460.90 L107.06,460.90 L107.89,460.90 L108.73,460.90 L109.56,460.90 L110.40,460.90 L111.24,460.90 L112.07,460.90 L112.91,460.90 L113.74,460.90 L114.58,460.90 L115.41,460.90 L116.25,460.90 L117.08,460.90 L117.92,460.90 L118.76,460.90 L119.59,460.90 L120.43,460.90 L121.26,460.90 L122.10,460.90 L122.93,460.90 L123.77,460.90 L124.61,460.90 L125.44,460.90 L126.28,460.90 L127.11,460.90 L127.95,460.90 L128.78,460.90 L129.62,460.90 L130.46,460.90 L131.29,460.90 L132.13,460.90 L132.96,460.90 L133.80,460.90 L134.63,460.90 L135.47,460.90 L136.31,460.90 L137.14,460.90 L137.98,460.90 L138.81,460.90 L139.65,460.90 L140.48,460.90 L141.32,460.90 L142.16,460.90 L142.99,460.90 L143.83,460.90 L144.66,460.90 L145.50,460.90 L146.33,460.90 L147.17,460.89 L148.01,460.89 L148.84,460.89 L149.68,460.89 L150.51,460.89 L151.35,460.89 L152.18,460.88 L153.02,460.88 L153.86,460.88 L154.69,460.88 L155.53,460.87 L156.36,460.87 L157.20,460.86 L158.03,460.86 L158.87,460.85 L159.71,460.84 L160.54,460.83 L161.38,460.82 L162.21,460.81 L163.05,460.79 L163.88,460.78 L164.72,460.76 L165.56,460.74 L166.39,460.71 L167.23,460.69 L168.06,460.65 L168.90,460.62 L169.73,460.58 L170.57,460.53 L171.41,460.48 L172.24,460.42 L173.08,460.36 L173.91,460.28 L174.75,460.20 L175.58,460.11 L176.42,460.00 L177.26,459.88 L178.09,459.75 L178.93,459.60 L179.76,459.44 L180.60,459.26 L181.43,459.06 L182.27,458.84 L183.11,458.59 L183.94,458.32 L184.78,458.01 L185.61,457.68 L186.45,457.32 L187.28,456.92 L188.12,456.48 L188.96,456.00 L189.79,455.48 L190.63,454.91 L191.46,454.30 L192.30,453.63 L193.13,452.90 L193.97,452.12 L194.81,451.28 L195.64,450.37 L196.48,449.39 L197.31,448.35 L198.15,447.23 L198.98,446.04 L199.82,444.78 L200.65,443.44 L201.49,442.02 L202.33,440.52 L203.16,438.94 L204.00,437.29 L204.83,435.55 L205.67,433.74 L206.50,431.86 L207.34,429.90 L208.18,427.88 L209.01,425.79 L209.85,423.64 L210.68,421.43 L211.52,419.18 L212.35,416.88 L213.19,414.55 L214.03,412.20 L214.86,409.82 L215.70,407.43 L216.53,405.05 L217.37,402.68 L218.20,400.33 L219.04,398.03 L219.88,395.77 L220.71,393.59 L221.55,391.50 L222.38,389.50 L223.22,387.63 L224.05,385.88 L224.89,384.29 L225.73,382.85 L226.56,381.59 L227.40,380.51 L228.23,379.64 L229.07,378.97 L229.90,378.52 L230.74,378.29 L231.58,378.29 L232.41,378.53 L233.25,379.00 L234.08,379.71 L234.92,380.66 L235.75,381.84 L236.59,383.26 L237.43,384.90 L238.26,386.76 L239.10,388.83 L239.93,391.10 L240.77,393.56 L241.60,396.19 L242.44,398.98 L243.28,401.91 L244.11,404.96 L244.95,408.10 L245.78,411.32 L246.62,414.59 L247.45,417.88 L248.29,421.19 L249.13,424.47 L249.96,427.70 L250.80,430.87 L251.63,433.95 L252.47,436.92 L253.30,439.76 L254.14,442.46 L254.98,444.99 L255.81,447.34 L256.65,449.51 L257.48,451.49 L258.32,453.28 L259.15,454.86 L259.99,456.25 L260.83,457.44 L261.66,458.44 L262.50,459.26 L263.33,459.91 L264.17,460.39 L265.00,460.72 L265.84,460.90 L266.68,460.95 L267.51,460.90 L268.35,460.74 L269.18,460.50 L270.02,460.20 L270.85,459.85 L271.69,459.45 L272.53,459.03 L273.36,458.60 L274.20,458.16 L275.03,457.72 L275.87,457.29 L276.70,456.89 L277.54,456.50 L278.38,456.14 L279.21,455.82 L280.05,455.53 L280.88,455.28 L281.72,455.06 L282.55,454.89 L283.39,454.75 L284.22,454.65 L285.06,454.59 L285.90,454.56 L286.73,454.57 L287.57,454.61 L288.40,454.68 L289.24,454.78 L290.07,454.90 L290.91,455.05 L291.75,455.21 L292.58,455.39 L293.42,455.59 L294.25,455.79 L295.09,456.01 L295.92,456.23 L296.76,456.46 L297.60,456.69 L298.43,456.92 L299.27,457.14 L300.10,457.37 L300.94,457.59 L301.77,457.81 L302.61,458.02 L303.45,458.22 L304.28,458.42 L305.12,458.60 L305.95,458.78 L306.79,458.95 L307.62,459.11 L308.46,459.26 L309.30,459.40 L310.13,459.54 L310.97,459.66 L311.80,459.78 L312.64,459.88 L313.47,459.98 L314.31,460.07 L315.15,460.16 L315.98,460.23 L316.82,460.30 L317.65,460.37 L318.49,460.43 L319.32,460.48 L320.16,460.53 L321.00,460.57 L321.83,460.61 L322.67,460.64 L323.50,460.67 L324.34,460.70 L325.17,460.72 L326.01,460.75 L326.85,460.77 L327.68,460.78 L328.52,460.80 L329.35,460.81 L330.19,460.82 L331.02,460.83 L331.86,460.84 L332.70,460.85 L333.53,460.86 L334.37,460.86 L335.20,460.87 L336.04,460.87 L336.87,460.88 L337.71,460.88 L338.55,460.88 L339.38,460.89 L340.22,460.89 L341.05,460.89 L341.89,460.89 L342.72,460.89 L343.56,460.89 L344.40,460.90 L345.23,460.90 L346.07,460.90 L346.90,460.90 L347.74,460.90 L348.57,460.90 L349.41,460.90 L350.25,460.90 L351.08,460.90 L351.92,460.90 L352.75,460.90 L353.59,460.90 L354.42,460.90 L355.26,460.90 L356.10,460.90 L356.93,460.90 L357.77,460.90 L358.60,460.90 L359.44,460.90 L360.27,460.90 L361.11,460.90 L361.95,460.90 L362.78,460.90 L363.62,460.90 L364.45,460.90 L365.29,460.90 L366.12,460.90 L366.96,460.90 L367.80,460.90" fill="none" stroke="#1f77b4" stroke-width="2.2"/>
<path d="M75.30,460.90 L76.14,460.90 L76.97,460.90 L77.81,460.90 L78.64,460.90 L79.48,460.90 L80.31,460.90 L81.15,460.90 L81.99,460.90 L82.82,460.90 L83.66,460.90 L84.49,460.90 L85.33,460.90 L86.16,460.90 L87.00,460.90 L87.84,460.90 L88.67,460.90 L89.51,460.90 L90.34,460.90 L91.18,460.90 L92.01,460.90 L92.85,460.90 L93.69,460.90 L94.52,460.90 L95.36,460.90 L96.19,460.90 L97.03,460.90 L97.86,460.90 L98.70,460.90 L99.54,460.90 L100.37,460.90 L101.21,460.90 L102.04,460.90 L102.88,460.90 L103.71,460.90 L104.55,460.90 L105.39,460.90 L106.22,460.90 L107.06,460.90 L107.89,460.90 L108.73,460.90 L109.56,460.90 L110.40,460.90 L111.24,460.90 L112.07,460.90 L112.91,460.90 L113.74,460.90 L114.58,460.90 L115.41,460.90 L116.25,460.90 L117.08,460.90 L117.92,460.90 L118.76,460.90 L119.59,460.90 L120.43,460.90 L121.26,460.90 L122.10,460.90 L122.93,460.90 L123.77,460.90 L124.61,460.90 L125.44,460.90 L126.28,460.90 L127.11,460.90 L127.95,460.90 L128.78,460.90 L129.62,460.90 L130.46,460.90 L131.29,460.90 L132.13,460.90 L132.96,460.90 L133.80,460.90 L134.63,460.90 L135.47,460.90 L136.31,460.90 L137.14,460.90 L137.98,460.90 L138.81,460.90 L139.65,460.90 L140.48,460.90 L141.32,460.90 L142.16,460.90 L142.99,460.90 L143.83,460.90 L144.66,460.90 L145.50,460.90 L146.33,460.90 L147.17,460.90 L148.01,460.90 L148.84,460.90 L149.68,460.90 L150.51,460.90 L151.35,460.90 L152.18,460.90 L153.02,460.90 L153.86,460.90 L154.69,460.90 L155.53,460.90 L156.36,460.90 L157.20,460.90 L158.03,460.90 L158.87,460.90 L159.71,460.90 L160.54,460.90 L161.38,460.90 L162.21,460.90 L163.05,460.90 L163.88,460.90 L164.72,460.90 L165.56,460.90 L166.39,460.90 L167.23,460.90 L168.06,460.90 L168.90,460.90 L169.73,460.90 L170.57,460.90 L171.41,460.90 L172.24,460.89 L173.08,460.89 L173.91,460.89 L174.75,460.89 L175.58,460.89 L176.42,460.89 L177.26,460.88 L178.09,460.88 L178.93,460.88 L179.76,460.87 L180.60,460.87 L181.43,460.86 L182.27,460.86 L183.11,460.85 L183.94,460.84 L184.78,460.83 L185.61,460.82 L186.45,460.80 L187.28,460.79 L188.12,460.77 L188.96,460.75 L189.79,460.73 L190.63,460.70 L191.46,460.67 L192.30,460.64 L193.13,460.60 L193.97,460.55 L194.81,460.50 L195.64,460.44 L196.48,460.38 L197.31,460.30 L198.15,460.22 L198.98,460.13 L199.82,460.02 L200.65,459.91 L201.49,459.78 L202.33,459.63 L203.16,459.47 L204.00,459.29 L204.83,459.10 L205.67,458.88 L206.50,458.64 L207.34,458.38 L208.18,458.09 L209.01,457.78 L209.85,457.43 L210.68,457.06 L211.52,456.65 L212.35,456.21 L213.19,455.74 L214.03,455.23 L214.86,454.68 L215.70,454.09 L216.53,453.46 L217.37,452.79 L218.20,452.08 L219.04,451.32 L219.88,450.52 L220.71,449.68 L221.55,448.81 L222.38,447.89 L223.22,446.93 L224.05,445.95 L224.89,444.93 L225.73,443.88 L226.56,442.82 L227.40,441.73 L228.23,440.64 L229.07,439.53 L229.90,438.43 L230.74,437.34 L231.58,436.26 L232.41,435.20 L233.25,434.18 L234.08,433.20 L234.92,432.26 L235.75,431.39 L236.59,430.60 L237.43,429.88 L238.26,429.25 L239.10,428.73 L239.93,428.31 L240.77,428.02 L241.60,427.86 L242.44,427.83 L243.28,427.95 L244.11,428.22 L244.95,428.64 L245.78,429.22 L246.62,429.95 L247.45,430.84 L248.29,431.88 L249.13,433.05 L249.96,434.37 L250.80,435.80 L251.63,437.34 L252.47,438.98 L253.30,440.69 L254.14,442.46 L254.98,444.26 L255.81,446.07 L256.65,447.88 L257.48,449.65 L258.32,451.36 L259.15,453.00 L259.99,454.53 L260.83,455.95 L261.66,457.22 L262.50,458.33 L263.33,459.27 L264.17,460.02 L265.00,460.57 L265.84,460.90 L266.68,461.01 L267.51,460.89 L268.35,460.56 L269.18,460.01 L270.02,459.26 L270.85,458.32 L271.69,457.19 L272.53,455.90 L273.36,454.45 L274.20,452.86 L275.03,451.15 L275.87,449.34 L276.70,447.44 L277.54,445.48 L278.38,443.47 L279.21,441.42 L280.05,439.37 L280.88,437.33 L281.72,435.31 L282.55,433.33 L283.39,431.41 L284.22,429.56 L285.06,427.80 L285.90,426.13 L286.73,424.59 L287.57,423.16 L288.40,421.87 L289.24,420.73 L290.07,419.73 L290.91,418.88 L291.75,418.19 L292.58,417.66 L293.42,417.28 L294.25,417.05 L295.09,416.98 L295.92,417.05 L296.76,417.26 L297.60,417.62 L298.43,418.10 L299.27,418.70 L300.10,419.41 L300.94,420.23 L301.77,421.15 L302.61,422.15 L303.45,423.23 L304.28,424.37 L305.12,425.57 L305.95,426.83 L306.79,428.11 L307.62,429.43 L308.46,430.77 L309.30,432.12 L310.13,433.48 L310.97,434.83 L311.80,436.17 L312.64,437.50 L313.47,438.81 L314.31,440.09 L315.15,441.34 L315.98,442.55 L316.82,443.73 L317.65,444.86 L318.49,445.95 L319.32,447.00 L320.16,448.00 L321.00,448.96 L321.83,449.86 L322.67,450.72 L323.50,451.53 L324.34,452.30 L325.17,453.01 L326.01,453.69 L326.85,454.31 L327.68,454.90 L328.52,455.44 L329.35,455.95 L330.19,456.42 L331.02,456.85 L331.86,457.24 L332.70,457.61 L333.53,457.94 L334.37,458.24 L335.20,458.52 L336.04,458.77 L336.87,459.00 L337.71,459.21 L338.55,459.40 L339.38,459.57 L340.22,459.72 L341.05,459.86 L341.89,459.98 L342.72,460.09 L343.56,460.19 L344.40,460.28 L345.23,460.35 L346.07,460.42 L346.90,460.48 L347.74,460.54 L348.57,460.59 L349.41,460.63 L350.25,460.66 L351.08,460.70 L351.92,460.72 L352.75,460.75 L353.59,460.77 L354.42,460.79 L355.26,460.80 L356.10,460.82 L356.93,460.83 L357.77,460.84 L358.60,460.85 L359.44,460.86 L360.27,460.86 L361.11,460.87 L361.95,460.87 L362.78,460.88 L363.62,460.88 L364.45,460.88 L365.29,460.89 L366.12,460.89 L366.96,460.89 L367.80,460.89" fill="none" stroke="#ff7f0e" stroke-width="2.2"/>
<path d="M75.30,460.90 L76.14,460.90 L76.97,460.90 L77.81,460.90 L78.64,460.90 L79.48,460.90 L80.31,460.90 L81.15,460.90 L81.99,460.90 L82.82,460.90 L83.66,460.90 L84.49,460.90 L85.33,460.90 L86.16,460.90 L87.00,460.90 L87.84,460.90 L88.67,460.90 L89.51,460.90 L90.34,460.90 L91.18,460.90 L92.01,460.90 L92.85,460.90 L93.69,460.90 L94.52,460.90 L95.36,460.90 L96.19,460.90 L97.03,460.90 L97.86,460.90 L98.70,460.90 L99.54,460.90 L100.37,460.90 L101.21,460.90 L102.04,460.90 L102.88,460.90 L103.71,460.90 L104.55,460.90 L105.39,460.90 L106.22,460.90 L107.06,460.90 L107.89,460.90 L108.73,460.90 L109.56,460.90 L110.40,460.90 L111.24,460.90 L112.07,460.90 L112.91,460.90 L113.74,460.90 L114.58,460.90 L115.41,460.90 L116.25,460.90 L117.08,460.90 L117.92,460.90 L118.76,460.90 L119.59,460.90 L120.43,460.90 L121.26,460.90 L122.10,460.90 L122.93,460.90 L123.77,460.90 L124.61,460.90 L125.44,460.90 L126.28,460.90 L127.11,460.90 L127.95,460.90 L128.78,460.90 L129.62,460.90 L130.46,460.90 L131.29,460.90 L132.13,460.90 L132.96,460.90 L133.80,460.90 L134.63,460.90 L135.47,460.90 L136.31,460.90 L137.14,460.90 L137.98,460.90 L138.81,460.90 L139.65,460.90 L140.48,460.90 L141.32,460.90 L142.16,460.90 L142.99,460.90 L143.83,460.90 L144.66,460.90 L145.50,460.90 L146.33,460.90 L147.17,460.90 L148.01,460.90 L148.84,460.90 L149.68,460.90 L150.51,460.90 L151.35,460.90 L152.18,460.90 L153.02,460.90 L153.86,460.90 L154.69,460.90 L155.53,460.90 L156.36,460.90 L157.20,460.90 L158.03,460.90 L158.87,460.90 L159.71,460.90 L160.54,460.90 L161.38,460.90 L162.21,460.90 L163.05,460.90 L163.88,460.90 L164.72,460.90 L165.56,460.90 L166.39,460.90 L167.23,460.90 L168.06,460.90 L168.90,460.90 L169.73,460.90 L170.57,460.90 L171.41,460.90 L172.24,460.90 L173.08,460.90 L173.91,460.90 L174.75,460.90 L175.58,460.90 L176.42,460.90 L177.26,460.90 L178.09,460.90 L178.93,460.90 L179.76,460.90 L180.60,460.90 L181.43,460.90 L182.27,460.90 L183.11,460.90 L183.94,460.90 L184.78,460.90 L185.61,460.90 L186.45,460.90 L187.28,460.90 L188.12,460.90 L188.96,460.90 L189.79,460.90 L190.63,460.89 L191.46,460.89 L192.30,460.89 L193.13,460.89 L193.97,460.89 L194.81,460.89 L195.64,460.88 L196.48,460.88 L197.31,460.88 L198.15,460.87 L198.98,460.87 L199.82,460.86 L200.65,460.86 L201.49,460.85 L202.33,460.84 L203.16,460.83 L204.00,460.82 L204.83,460.81 L205.67,460.79 L206.50,460.77 L207.34,460.75 L208.18,460.73 L209.01,460.71 L209.85,460.68 L210.68,460.64 L211.52,460.61 L212.35,460.57 L213.19,460.52 L214.03,460.47 L214.86,460.41 L215.70,460.34 L216.53,460.27 L217.37,460.19 L218.20,460.09 L219.04,459.99 L219.88,459.88 L220.71,459.76 L221.55,459.63 L222.38,459.48 L223.22,459.33 L224.05,459.15 L224.89,458.97 L225.73,458.77 L226.56,458.55 L227.40,458.32 L228.23,458.08 L229.07,457.82 L229.90,457.54 L230.74,457.25 L231.58,456.95 L232.41,456.63 L233.25,456.30 L234.08,455.96 L234.92,455.61 L235.75,455.26 L236.59,454.90 L237.43,454.54 L238.26,454.17 L239.10,453.82 L239.93,453.47 L240.77,453.13 L241.60,452.82 L242.44,452.52 L243.28,452.25 L244.11,452.02 L244.95,451.82 L245.78,451.66 L246.62,451.55 L247.45,451.49 L248.29,451.49 L249.13,451.55 L249.96,451.67 L250.80,451.86 L251.63,452.11 L252.47,452.42 L253.30,452.81 L254.14,453.25 L254.98,453.75 L255.81,454.30 L256.65,454.90 L257.48,455.53 L258.32,456.18 L259.15,456.85 L259.99,457.52 L260.83,458.18 L261.66,458.80 L262.50,459.39 L263.33,459.91 L264.17,460.34 L265.00,460.68 L265.84,460.90 L266.68,460.98 L267.51,460.89 L268.35,460.64 L269.18,460.21 L270.02,459.57 L270.85,458.74 L271.69,457.68 L272.53,456.40 L273.36,454.89 L274.20,453.14 L275.03,451.15 L275.87,448.93 L276.70,446.46 L277.54,443.76 L278.38,440.83 L279.21,437.68 L280.05,434.31 L280.88,430.74 L281.72,426.98 L282.55,423.05 L283.39,418.96 L284.22,414.74 L285.06,410.39 L285.90,405.96 L286.73,401.46 L287.57,396.92 L288.40,392.36 L289.24,387.82 L290.07,383.32 L290.91,378.89 L291.75,374.55 L292.58,370.34 L293.42,366.27 L294.25,362.37 L295.09,358.67 L295.92,355.18 L296.76,351.93 L297.60,348.93 L298.43,346.21 L299.27,343.77 L300.10,341.63 L300.94,339.80 L301.77,338.28 L302.61,337.09 L303.45,336.22 L304.28,335.68 L305.12,335.46 L305.95,335.57 L306.79,335.99 L307.62,336.72 L308.46,337.74 L309.30,339.05 L310.13,340.63 L310.97,342.47 L311.80,344.55 L312.64,346.85 L313.47,349.36 L314.31,352.05 L315.15,354.92 L315.98,357.93 L316.82,361.08 L317.65,364.34 L318.49,367.69 L319.32,371.12 L320.16,374.60 L321.00,378.12 L321.83,381.66 L322.67,385.21 L323.50,388.74 L324.34,392.25 L325.17,395.72 L326.01,399.14 L326.85,402.50 L327.68,405.79 L328.52,408.99 L329.35,412.10 L330.19,415.12 L331.02,418.03 L331.86,420.83 L332.70,423.53 L333.53,426.10 L334.37,428.57 L335.20,430.91 L336.04,433.14 L336.87,435.25 L337.71,437.25 L338.55,439.13 L339.38,440.90 L340.22,442.55 L341.05,444.11 L341.89,445.56 L342.72,446.91 L343.56,448.16 L344.40,449.33 L345.23,450.41 L346.07,451.40 L346.90,452.32 L347.74,453.16 L348.57,453.93 L349.41,454.63 L350.25,455.28 L351.08,455.87 L351.92,456.40 L352.75,456.89 L353.59,457.32 L354.42,457.72 L355.26,458.08 L356.10,458.40 L356.93,458.69 L357.77,458.95 L358.60,459.18 L359.44,459.39 L360.27,459.57 L361.11,459.74 L361.95,459.88 L362.78,460.01 L363.62,460.12 L364.45,460.22 L365.29,460.31 L366.12,460.39 L366.96,460.46 L367.80,460.52" fill="none" stroke="#2ca02c" stroke-width="2.2"/>
</g>
<path d="M75.5,3.9 L75.5,141.18 M74.9,141.8 L367.90,141.8" fill="none" stroke="#262626" stroke-width="1.25"/>
<path d="M75.5,166.2 L75.5,303.78 M74.9,304.4 L367.90,304.4" fill="none" stroke="#262626" stroke-width="1.25"/>
<path d="M75.5,328.9 L75.5,466.48 M74.9,467.1 L367.90,467.1" fill="none" stroke="#262626" stroke-width="1.25"/>
<line x1="265.84" y1="141.8" x2="265.84" y2="4.0" stroke="#808080" stroke-width="1.87" stroke-dasharray="1.87 3.07"/>
<line x1="265.84" y1="304.3" x2="265.84" y2="166.8" stroke="#808080" stroke-width="1.87" stroke-dasharray="1.87 3.07"/>
<line x1="265.84" y1="467.1" x2="265.84" y2="329.4" stroke="#808080" stroke-width="1.87" stroke-dasharray="1.87 3.07"/>
<text x="47.20" y="147.50" font-size="14.0" textLength="19.18" lengthAdjust="spacingAndGlyphs">1.0</text>
<text x="47.21" y="101.55" font-size="14.0" textLength="18.99" lengthAdjust="spacingAndGlyphs">1.5</text>
<text x="47.38" y="55.30" font-size="14.0" textLength="19.00" lengthAdjust="spacingAndGlyphs">2.0</text>
<text x="47.39" y="9.35" font-size="14.0" textLength="18.82" lengthAdjust="spacingAndGlyphs">2.5</text>
<text x="39.17" y="303.20" font-size="14.0" textLength="27.23" lengthAdjust="spacingAndGlyphs">0.00</text>
<text x="39.17" y="264.10" font-size="14.0" textLength="27.05" lengthAdjust="spacingAndGlyphs">0.05</text>
<text x="39.17" y="225.00" font-size="14.0" textLength="27.23" lengthAdjust="spacingAndGlyphs">0.10</text>
<text x="39.17" y="185.90" font-size="14.0" textLength="27.05" lengthAdjust="spacingAndGlyphs">0.15</text>
<text x="30.90" y="465.70" font-size="14.0" textLength="35.51" lengthAdjust="spacingAndGlyphs">0.000</text>
<text x="30.90" y="429.62" font-size="14.0" textLength="35.33" lengthAdjust="spacingAndGlyphs">0.005</text>
<text x="30.90" y="393.55" font-size="14.0" textLength="35.51" lengthAdjust="spacingAndGlyphs">0.010</text>
<text x="30.90" y="357.47" font-size="14.0" textLength="35.33" lengthAdjust="spacingAndGlyphs">0.015</text>
<text x="66.84" y="485.80" font-size="14.0" textLength="17.02" lengthAdjust="spacingAndGlyphs">−5</text>
<text x="113.48" y="485.80" font-size="14.0" textLength="7.14" lengthAdjust="spacingAndGlyphs">0</text>
<text x="155.42" y="485.80" font-size="14.0" textLength="6.79" lengthAdjust="spacingAndGlyphs">5</text>
<text x="193.23" y="485.80" font-size="14.0" textLength="14.86" lengthAdjust="spacingAndGlyphs">10</text>
<text x="235.03" y="485.80" font-size="14.0" textLength="14.66" lengthAdjust="spacingAndGlyphs">15</text>
<text x="276.71" y="485.80" font-size="14.0" textLength="14.96" lengthAdjust="spacingAndGlyphs">20</text>
<text x="318.50" y="485.80" font-size="14.0" textLength="14.77" lengthAdjust="spacingAndGlyphs">25</text>
<text x="360.41" y="485.80" font-size="14.0" textLength="14.82" lengthAdjust="spacingAndGlyphs">30</text>
<text x="165.11" y="501.60" font-size="13.6" textLength="88.83" lengthAdjust="spacingAndGlyphs">Temperature (</text>
<circle cx="259.4" cy="495.3" r="1.05" fill="none" stroke="#262626" stroke-width="0.85"/>
<text x="264.17" y="501.60" font-size="13.6" textLength="13.25" lengthAdjust="spacingAndGlyphs">C)</text>
<text transform="translate(39.20,110.82) rotate(-90)" x="0" y="0" font-size="13.6" textLength="75.93" lengthAdjust="spacingAndGlyphs">Relative risk</text>
<text transform="translate(17.60,275.19) rotate(-90)" x="0" y="0" font-size="13.6" textLength="81.43" lengthAdjust="spacingAndGlyphs">Temperature</text>
<text transform="translate(31.30,290.93) rotate(-90)" x="0" y="0" font-size="13.6" textLength="113.92" lengthAdjust="spacingAndGlyphs">probability density</text>
<text transform="translate(9.20,460.31) rotate(-90)" x="0" y="0" font-size="13.6" textLength="125.93" lengthAdjust="spacingAndGlyphs">Frequency-weighted</text>
<text transform="translate(22.40,461.88) rotate(-90)" x="0" y="0" font-size="13.6" textLength="131.17" lengthAdjust="spacingAndGlyphs">att. mortality fraction</text>
<text x="343.30" y="17.20" font-size="13.6" textLength="20.45" lengthAdjust="spacingAndGlyphs">(a)</text>
<text x="342.74" y="175.90" font-size="13.6" textLength="21.67" lengthAdjust="spacingAndGlyphs">(b)</text>
<text x="342.79" y="340.10" font-size="13.6" textLength="19.64" lengthAdjust="spacingAndGlyphs">(c)</text>
<line x1="86.4" y1="183.70" x2="111.7" y2="183.70" stroke="#1f77b4" stroke-width="2.0" stroke-linecap="round"/>
<text x="121.70" y="187.20" font-size="12.7" textLength="8.17" lengthAdjust="spacingAndGlyphs" font-style="italic">μ</text>
<text x="130.22" y="187.20" font-size="12.7" textLength="9.15" lengthAdjust="spacingAndGlyphs">=</text>
<text x="140.21" y="187.20" font-size="12.7" textLength="14.66" lengthAdjust="spacingAndGlyphs">15</text>
<line x1="86.4" y1="203.65" x2="111.7" y2="203.65" stroke="#ff7f0e" stroke-width="2.0" stroke-linecap="round"/>
<text x="121.70" y="207.00" font-size="12.7" textLength="8.17" lengthAdjust="spacingAndGlyphs" font-style="italic">μ</text>
<text x="130.22" y="207.00" font-size="12.7" textLength="9.15" lengthAdjust="spacingAndGlyphs">=</text>
<text x="140.17" y="207.00" font-size="12.7" textLength="26.60" lengthAdjust="spacingAndGlyphs">17.8</text>
<line x1="86.4" y1="223.60" x2="111.7" y2="223.60" stroke="#2ca02c" stroke-width="2.0" stroke-linecap="round"/>
<text x="121.70" y="226.80" font-size="12.7" textLength="8.17" lengthAdjust="spacingAndGlyphs" font-style="italic">μ</text>
<text x="130.22" y="226.80" font-size="12.7" textLength="9.15" lengthAdjust="spacingAndGlyphs">=</text>
<text x="140.53" y="226.80" font-size="12.7" textLength="14.96" lengthAdjust="spacingAndGlyphs">20</text>
</svg>
</body></html>
